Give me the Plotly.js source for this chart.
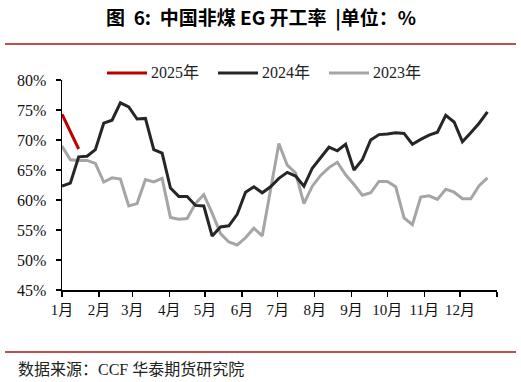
<!DOCTYPE html>
<html>
<head>
<meta charset="utf-8">
<script src="https://cdn.plot.ly/plotly-3.0.1.min.js"></script>
<style>
html,body{margin:0;padding:0;background:#fff;}
#chart{width:521px;height:382px;}
</style>
</head>
<body>
<div id="chart"></div>
<script>
// ---- data ----
const monthLabels = ['1月','2月','3月','4月','5月','6月','7月','8月','9月','10月','11月','12月'];
const monthLengths = [31,28,31,30,31,30,31,31,30,31,30,31];
const seriesNames = ['2025年','2024年','2023年'];
const seriesColors = ['#C00000','#262626','#A5A5A5'];
const v2025 = [74.3, 71.4, 68.5];
const v2024 = [62.3, 62.8, 67.2, 67.3, 68.4, 72.8, 73.3, 76.2, 75.5, 73.5,
               73.6, 68.4, 67.8, 62.0, 60.6, 60.6, 59.1, 59.0, 54.0, 55.5,
               55.7, 57.6, 61.3, 62.2, 61.2, 62.2, 63.6, 64.6, 64.0, 62.3,
               65.3, 67.0, 68.8, 68.2, 69.3, 65.0, 66.7, 70.0, 70.9, 71.0,
               71.2, 71.1, 69.3, 70.1, 70.8, 71.3, 74.1, 73.0, 69.7, 71.2,
               72.8, 74.7];
const v2023 = [69.0, 66.7, 66.6, 66.6, 66.1, 63.0, 63.7, 63.5, 59.0, 59.4,
               63.4, 63.0, 63.6, 57.1, 56.8, 56.9, 59.4, 60.9, 57.8, 54.4,
               53.0, 52.5, 53.7, 55.3, 54.0, 61.8, 69.4, 65.8, 64.5, 59.4,
               62.3, 64.1, 65.4, 66.3, 64.2, 62.6, 60.8, 61.2, 63.1, 63.1,
               62.2, 57.0, 55.9, 60.5, 60.7, 60.1, 61.8, 61.3, 60.2, 60.2,
               62.4, 63.7];
const yTicks = [45, 50, 55, 60, 65, 70, 75, 80];
const yTickText = yTicks.map(v => v + '%');

// ---- helpers ----
const dayOfWeek = arr => arr.map((_, i) => i * 7);
const monthStarts = [0];
monthLengths.forEach(d => monthStarts.push(monthStarts[monthStarts.length - 1] + d));

const serif = 'Liberation Serif, Times New Roman, Noto Sans CJK SC, serif';
const cjk = 'Noto Sans CJK SC, sans-serif';

const traces = [
  {x: dayOfWeek(v2023), y: v2023, name: seriesNames[2], type: 'scatter', mode: 'lines',
   line: {color: seriesColors[2], width: 3}},
  {x: dayOfWeek(v2024), y: v2024, name: seriesNames[1], type: 'scatter', mode: 'lines',
   line: {color: seriesColors[1], width: 3}},
  {x: dayOfWeek(v2025), y: v2025, name: seriesNames[0], type: 'scatter', mode: 'lines',
   line: {color: seriesColors[0], width: 3}}
];

// custom legend (paper coords): plot area x 62..497 px, y 80..290 px
const px = x => (x - 62) / 435;
const py = y => (290 - y) / 210;
const legendStarts = [107, 218, 329];
const legendShapes = legendStarts.map((s, i) => ({
  type: 'line', xref: 'paper', yref: 'paper', x0: px(s), x1: px(s + 40), y0: py(73), y1: py(73),
  line: {color: seriesColors[i], width: 3}
}));
const legendTexts = legendStarts.map((s, i) => ({
  xref: 'paper', yref: 'paper', x: px(s + 42), y: py(73), xanchor: 'left', yanchor: 'middle',
  showarrow: false, text: seriesNames[i], font: {family: serif, size: 16, color: '#222'}
}));

const layout = {
  width: 521, height: 382,
  margin: {l: 62, r: 24, t: 80, b: 92},
  paper_bgcolor: '#fff', plot_bgcolor: '#fff',
  showlegend: false,
  xaxis: {range: [0, 365], tickmode: 'array', tickvals: monthStarts,
          ticktext: monthLabels.concat(['']), ticks: 'outside', ticklen: 5, tickwidth: 1.5,
          tickcolor: '#000', showline: true, linecolor: '#000', linewidth: 1.5,
          showgrid: false, zeroline: false, fixedrange: true,
          tickfont: {family: serif, size: 15, color: '#111'}},
  yaxis: {range: [45, 80], tickmode: 'array', tickvals: yTicks, ticktext: yTickText,
          ticks: 'outside', ticklen: 5, tickwidth: 1.5, tickcolor: '#000',
          showline: true, linecolor: '#000', linewidth: 1.5, showgrid: false,
          zeroline: false, fixedrange: true, ticklabelstandoff: 6,
          tickfont: {family: serif, size: 16, color: '#111'}},
  shapes: [
    {type: 'line', xref: 'paper', yref: 'paper', x0: px(5), x1: px(516), y0: py(44), y1: py(44),
     line: {color: '#C0504D', width: 2}},
    {type: 'line', xref: 'paper', yref: 'paper', x0: px(5), x1: px(516), y0: py(352), y1: py(352),
     line: {color: '#C0504D', width: 2}}
  ].concat(legendShapes),
  annotations: [
    {xref: 'paper', yref: 'paper', x: px(261), y: py(17), xanchor: 'center', yanchor: 'middle',
     showarrow: false, text: '<b>图  6:  中国非煤 EG 开工率  |单位：%</b>',
     font: {family: cjk, size: 19, color: '#000'}},
    {xref: 'paper', yref: 'paper', x: px(16), y: py(369), xanchor: 'left', yanchor: 'middle',
     showarrow: false, text: '数据来源：CCF 华泰期货研究院',
     font: {family: 'Liberation Serif, Noto Sans CJK SC, serif', size: 16, color: '#222'}}
  ].concat(legendTexts)
};

Plotly.newPlot('chart', traces, layout, {displayModeBar: false, staticPlot: true});
</script>
</body>
</html>
